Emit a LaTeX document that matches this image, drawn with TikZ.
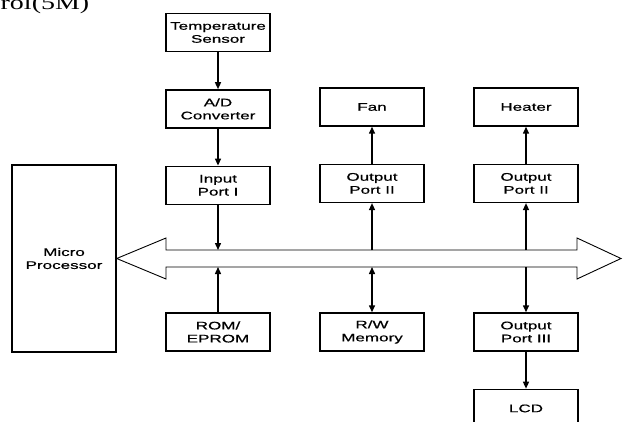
\documentclass[tikz,border=0pt]{standalone}
\usepackage{fontspec}
\newfontfamily\boxfont[FakeStretch=1.55,FakeBold=0.6]{Liberation Sans}
\newfontfamily\pagefont[FakeStretch=1.4]{Liberation Serif}
\usetikzlibrary{
arrows.meta,
chains,
positioning,
scopes
}

\begin{document}
\begin{tikzpicture}[x=1pt, y=1pt,
    >={Triangle[width=6pt,length=7pt]},
    every join/.style={->},
    line width=1.4pt,
    node distance=37pt,
    base/.style={draw, minimum width=104pt, minimum height=38pt, inner sep=0pt,
      align=center, font=\boxfont\fontsize{11}{13}\selectfont},
    proc/.style={base, join}]
  \useasboundingbox (0,0) rectangle (623,421);
  \clip (0,0) rectangle (623,421);
  \node[font=\pagefont\fontsize{20}{22}\selectfont, anchor=base east, inner sep=0pt] (head) at (90,411) {rol(5M)};
  { [start chain=sense going below]
    \node[base, on chain] (temp) at (218,388.5) {Temperature\\Sensor};
    \node[proc, on chain] (adc) {A/D\\Converter};
    \node[proc, on chain] (inport) {Input\\Port I};
  }
  \node[base] (fan) at (372,314) {Fan};
  \node[base, below=of fan] (outA) {Output\\Port II};
  \node[base] (heater) at (526,314) {Heater};
  \node[base, below=of heater] (outB) {Output\\Port II};
  \node[base, minimum height=187pt] (cpu) at (64,162.5) {Micro\\Processor};
  \node[base] (rom) at (218,89) {ROM/\\EPROM};
  \node[base] (ram) at (372,89) {R/W\\Memory};
  { [start chain=disp going below]
    \node[base, on chain] (outC) at (526,89) {Output\\Port III};
    \node[proc, on chain] (lcd) {LCD};
  }
  % system bus
  \coordinate (bustop) at (0,171);
  \coordinate (busbot) at (0,154);
  \draw[line width=0.9pt] (cpu.east) -- (166,183) -- (166,171) -- (577,171) -- (577,183)
    -- (621,162.5) -- (577,142) -- (577,154) -- (166,154) -- (166,142) -- cycle;
  \draw[->] (inport) -- (inport |- bustop);
  \draw[->] (rom) -- (rom |- busbot);
  \draw[<->] (ram |- busbot) -- (ram);
  \draw[->] (outA |- bustop) -- (outA);
  \draw[->] (outA) -- (fan);
  \draw[->] (outB |- bustop) -- (outB);
  \draw[->] (outB) -- (heater);
  \draw[->] (outC |- busbot) -- (outC);
\end{tikzpicture}
\end{document}
